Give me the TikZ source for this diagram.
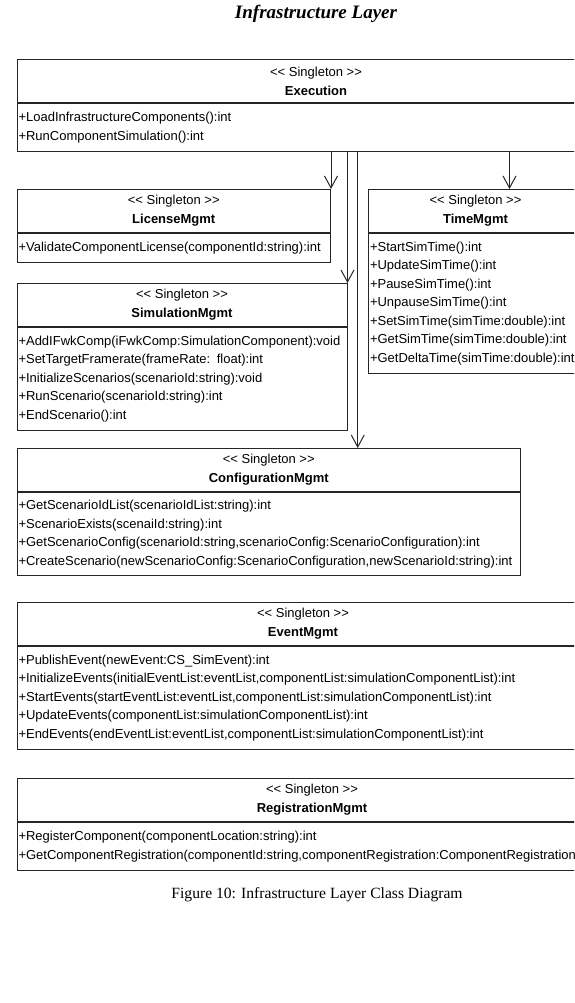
\documentclass[tikz,border=0pt]{standalone}
\usepackage{fontspec}
\setmainfont{Liberation Serif}
\setsansfont{Liberation Sans}[Ligatures=TeXOff]
\usetikzlibrary{arrows.meta}
\tikzset{
  class head/.style={
    draw,
    anchor=north west,
    minimum height=43pt,
    inner sep=0pt,
    align=center,
    font=\sffamily\fontsize{13}{19}\selectfont
  },
  class body/.style={
    draw,
    anchor=north west,
    inner xsep=1.5pt,
    inner ysep=0pt,
    align=left,
    font=\sffamily\fontsize{13}{18.5}\selectfont
  },
  depends/.style={
    -{Straight Barb[length=12pt,width=13pt]}
  }
}

\begin{document}
\begin{tikzpicture}[x=1pt, y=-1pt, line width=1pt, draw=black!85]
  \useasboundingbox (0,0) rectangle (574,1003);
  \clip (0,0) rectangle (574,1003);

  % Title and caption
  \node (title) at (316,14) {\fontsize{19}{21}\selectfont\bfseries\itshape Infrastructure Layer};
  \node (caption) at (317,895) {\fontsize{15.6}{18}\selectfont Figure 10: Infrastructure Layer Class Diagram};

  % Node placement
  \node [class head, minimum width=598pt] (execH) at (16.5,59) {<< Singleton >>\\\textbf{Execution}};
  \node [class body, text width=595pt, minimum height=48pt] (execB) at (execH.south west)
    {+LoadInfrastructureComponents():int\\+RunComponentSimulation():int};

  \node [class head, minimum width=313.5pt] (licH) at (16.5,189) {<< Singleton >>\\\textbf{LicenseMgmt}};
  \node [class body, text width=310.5pt, minimum height=29pt] (licB) at (licH.south west)
    {+ValidateComponentLicense(componentId:string):int};

  \node [class head, minimum width=214pt] (timeH) at (368,189) {<< Singleton >>\\\textbf{TimeMgmt}};
  \node [class body, text width=211pt, minimum height=140pt] (timeB) at (timeH.south west)
    {+StartSimTime():int\\+UpdateSimTime():int\\+PauseSimTime():int\\+UnpauseSimTime():int\\
     +SetSimTime(simTime:double):int\\+GetSimTime(simTime:double):int\\+GetDeltaTime(simTime:double):int};

  \node [class head, minimum width=330pt] (simH) at (16.5,283) {<< Singleton >>\\\textbf{SimulationMgmt}};
  \node [class body, text width=327pt, minimum height=103pt] (simB) at (simH.south west)
    {+AddIFwkComp(iFwkComp:SimulationComponent):void\\+SetTargetFramerate(frameRate: float):int\\
     +InitializeScenarios(scenarioId:string):void\\+RunScenario(scenarioId:string):int\\+EndScenario():int};

  \node [class head, minimum width=503.5pt] (confH) at (16.5,448) {<< Singleton >>\\\textbf{ConfigurationMgmt}};
  \node [class body, text width=500.5pt, minimum height=83pt] (confB) at (confH.south west)
    {+GetScenarioIdList(scenarioIdList:string):int\\+ScenarioExists(scenaiId:string):int\\
     +GetScenarioConfig(scenarioId:string,scenarioConfig:ScenarioConfiguration):int\\
     +CreateScenario(newScenarioConfig:ScenarioConfiguration,newScenarioId:string):int};

  \node [class head, minimum width=572pt] (evtH) at (16.5,602) {<< Singleton >>\\\textbf{EventMgmt}};
  \node [class body, text width=569pt, minimum height=103pt] (evtB) at (evtH.south west)
    {+PublishEvent(newEvent:CS\_SimEvent):int\\
     +InitializeEvents(initialEventList:eventList,componentList:simulationComponentList):int\\
     +StartEvents(startEventList:eventList,componentList:simulationComponentList):int\\
     +UpdateEvents(componentList:simulationComponentList):int\\
     +EndEvents(endEventList:eventList,componentList:simulationComponentList):int};

  \node [class head, minimum width=590pt] (regH) at (16.5,778) {<< Singleton >>\\\textbf{RegistrationMgmt}};
  \node [class body, text width=587pt, minimum height=48pt] (regB) at (regH.south west)
    {+RegisterComponent(componentLocation:string):int\\
     +GetComponentRegistration(componentId:string,componentRegistration:ComponentRegistration):int};

  % Arrows
  \draw[depends] (execB.south -| licH.north east) -- (licH.north east);
  \draw[depends] (execB.south -| simH.north east) -- (simH.north east);
  \draw[depends] ([xshift=89pt]confH.north |- execB.south) -- ([xshift=89pt]confH.north);
  \draw[depends] ([xshift=34pt]timeH.north |- execB.south) -- ([xshift=34pt]timeH.north);
\end{tikzpicture}
\end{document}
